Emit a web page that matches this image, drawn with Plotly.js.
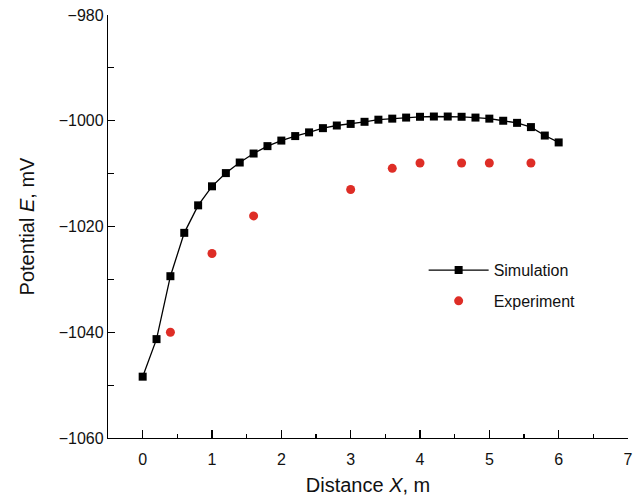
<!DOCTYPE html>
<html>
<head>
<meta charset="utf-8">
<script src="https://cdn.plot.ly/plotly-3.0.1.min.js"></script>
<style>html,body{margin:0;padding:0;background:#fff;}#chart{width:640px;height:496px;}</style>
</head>
<body>
<div id="chart"></div>
<script>
const simX = [0,0.2,0.4,0.6,0.8,1.0,1.2,1.4,1.6,1.8,2.0,2.2,2.4,2.6,2.8,3.0,3.2,3.4,3.6,3.8,4.0,4.2,4.4,4.6,4.8,5.0,5.2,5.4,5.6,5.8,6.0];
const simY = [-1048.4,-1041.3,-1029.4,-1021.2,-1016.0,-1012.4,-1009.9,-1007.9,-1006.2,-1004.8,-1003.75,-1002.9,-1002.2,-1001.4,-1000.9,-1000.6,-1000.2,-999.8,-999.6,-999.4,-999.25,-999.2,-999.2,-999.25,-999.4,-999.6,-1000.0,-1000.4,-1001.2,-1002.8,-1004.1];
const expX = [0.4,1.0,1.6,3.0,3.6,4.0,4.6,5.0,5.6];
const expY = [-1040,-1025.1,-1018.0,-1013.0,-1009.0,-1008.0,-1008.0,-1008.0,-1008.0];
const xTicks = [0,1,2,3,4,5,6,7];
const yTicks = [-1060,-1040,-1020,-1000,-980];

const font = {family: 'Liberation Sans, Arial, sans-serif', color: '#111'};
const data = [
  {x: simX, y: simY, name: 'Simulation', legendgroup: 'a', type: 'scatter', mode: 'lines+markers',
   line: {color: '#000', width: 1.3}, marker: {symbol: 'square', size: 8, color: '#000'}},
  {x: expX, y: expY, name: 'Experiment', legendgroup: 'b', type: 'scatter', mode: 'markers',
   marker: {symbol: 'circle', size: 9, color: 'rgb(222,45,38)'}}
];
const layout = {
  width: 640, height: 496,
  margin: {l: 108, r: 12, t: 15, b: 58},
  paper_bgcolor: '#fff', plot_bgcolor: '#fff',
  font: Object.assign({size: 16}, font),
  showlegend: true,
  legend: {x: 0.607, y: 0.437, xanchor: 'left', yanchor: 'top', bgcolor: 'rgba(0,0,0,0)',
           font: Object.assign({size: 16}, font), itemwidth: 60, traceorder: 'grouped', tracegroupgap: 7},
  xaxis: {range: [-0.5, 7], tickvals: xTicks, ticktext: xTicks.map(String),
          showgrid: false, zeroline: false, showline: true, linecolor: '#000', linewidth: 1.2,
          ticks: 'inside', ticklen: 8, tickwidth: 1.2, tickcolor: '#000', ticklabelstandoff: 7,
          minor: {dtick: 0.5, tick0: 0, ticks: 'inside', ticklen: 4, tickwidth: 1.2, tickcolor: '#000', showgrid: false},
          tickfont: Object.assign({size: 16}, font),
          title: {text: 'Distance <i>X</i>, m', font: Object.assign({size: 20}, font), standoff: 10}},
  yaxis: {range: [-1060, -980], tickvals: yTicks, ticktext: yTicks.map(v => '\u2212' + Math.abs(v)),
          showgrid: false, zeroline: false, showline: true, linecolor: '#000', linewidth: 1.2,
          ticks: 'inside', ticklen: 7, tickwidth: 1.2, tickcolor: '#000',
          minor: {dtick: 10, tick0: -1060, ticks: 'inside', ticklen: 6, tickwidth: 1.2, tickcolor: '#000', showgrid: false},
          tickfont: Object.assign({size: 16}, font),
          title: {text: 'Potential <i>E</i>, mV', font: Object.assign({size: 20}, font), standoff: 18}}
};
Plotly.newPlot('chart', data, layout, {staticPlot: true, displayModeBar: false});
</script>
</body>
</html>
